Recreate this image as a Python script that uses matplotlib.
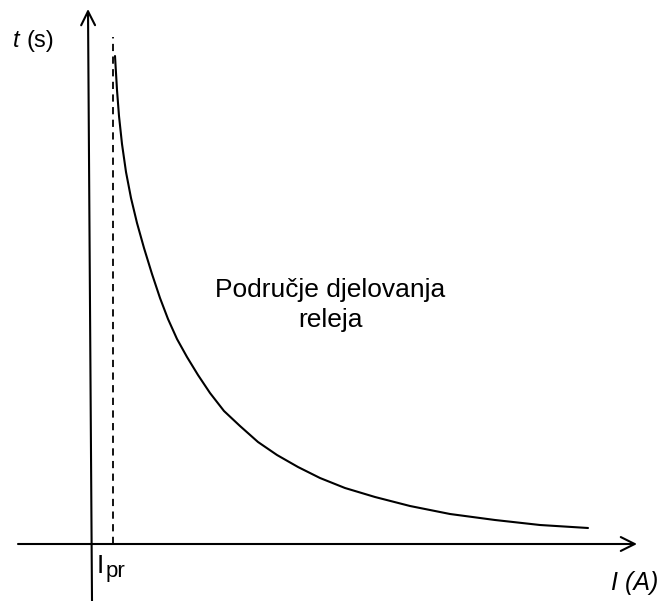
import matplotlib
matplotlib.use("Agg")
import matplotlib.pyplot as plt

plt.rcParams['font.family'] = ['Liberation Sans', 'DejaVu Sans']

# curve data (arbitrary units, origin at axes crossing)
current = [25, 27, 29, 32, 36, 41, 47, 54, 62, 70, 78, 87, 97, 108, 120, 134,
           150, 168, 187, 208, 230, 255, 285, 320, 360, 405, 450, 498]
time_s = [488, 454, 428, 400, 372, 346, 321, 296, 270, 246, 225, 205, 187, 169,
          151, 133, 118, 102, 89, 77, 66, 56, 47, 38, 30, 24, 19, 16]
i_pr = 23
dash_top = 507

fig = plt.figure(figsize=(6.61, 6.01), dpi=100)
ax = fig.add_axes([0, 0, 1, 1])
ax.set_xlim(-90, 571)
ax.set_ylim(-57, 544)
ax.axis('off')

# axes arrows
ax.annotate('', xy=(547, 0), xytext=(-72, 0),
            arrowprops=dict(arrowstyle='->', lw=1.5, color='black', mutation_scale=25,
                            shrinkA=0, shrinkB=0))
ax.annotate('', xy=(-2, 535), xytext=(2, -57),
            arrowprops=dict(arrowstyle='->', lw=1.5, color='black', mutation_scale=25,
                            shrinkA=0, shrinkB=0))

# dashed pick-up current line
ax.plot([i_pr, i_pr], [0, dash_top], color='black', lw=1.3, ls=(0, (4, 3)))

# characteristic curve
ax.plot(current, time_s, color='black', lw=1.5, solid_capstyle='round',
        solid_joinstyle='round')

# labels
ax.text(-77, 497, 't', fontsize=17, style='italic', ha='left', va='baseline')
ax.text(-64, 497, '(s)', fontsize=17, ha='left', va='baseline')
ax.text(7, -29, 'I', fontsize=19, ha='left', va='baseline')
ax.text(16, -33, 'pr', fontsize=16, ha='left', va='baseline')
ax.text(521, -46, 'I (A)', fontsize=18, style='italic', ha='left', va='baseline')
ax.text(240, 247, 'Područje djelovanja', fontsize=19, ha='center', va='baseline')
ax.text(240, 217, 'releja', fontsize=19, ha='center', va='baseline')

fig.savefig('out.png', dpi=100)
